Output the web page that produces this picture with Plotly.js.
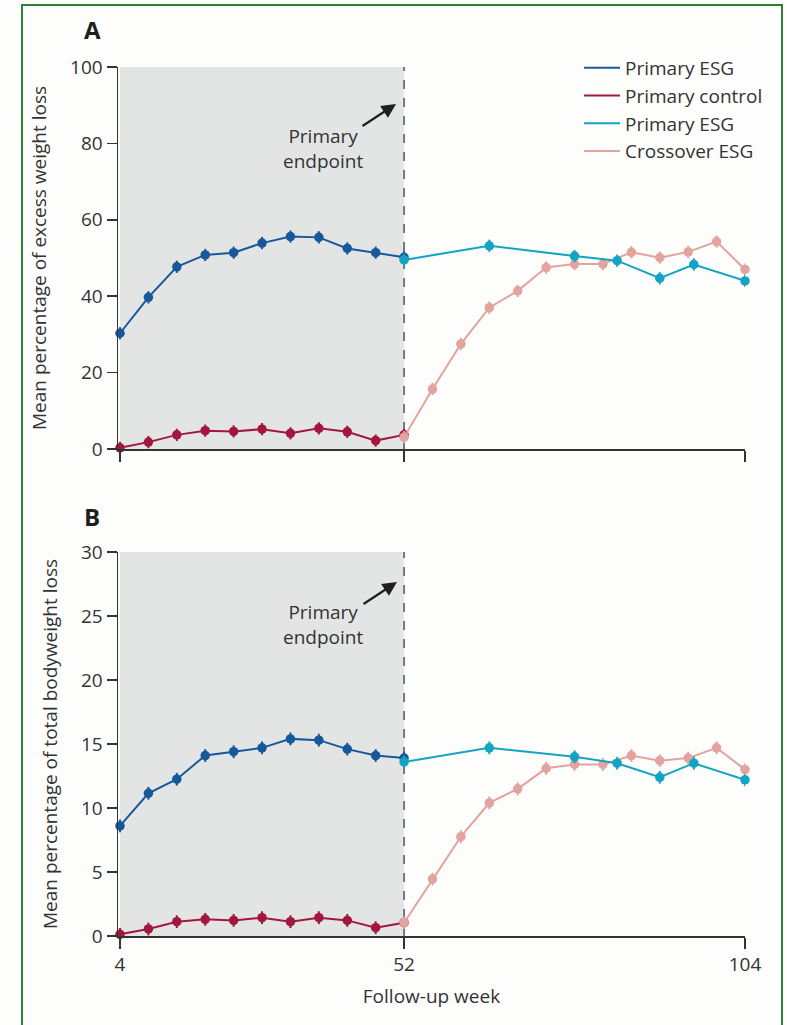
<!DOCTYPE html>
<html>
<head>
<meta charset="utf-8">
<script src="https://cdn.plot.ly/plotly-3.0.1.min.js"></script>
<style>
  html, body { margin: 0; padding: 0; background: #ffffff; }
  #wrap { position: relative; width: 787px; height: 1025px; overflow: hidden; }
  #chart { position: absolute; left: 0; top: 0; width: 787px; height: 1025px; }
  #frame { position: absolute; left: 21px; top: 4px; width: 758px; height: 1100px;
           border: 2px solid #2f7f35; pointer-events: none; }
</style>
</head>
<body>
<div id="wrap">
  <div id="chart"></div>
  <div id="frame"></div>
</div>
<script>
// ---- Data (visit position on the x axis; tick labels give follow-up weeks) ----
var weekTickPos = [0, 10, 22];
var weekTickText = ['4', '52', '104'];

var visitYear1 = [0, 1, 2, 3, 4, 5, 6, 7, 8, 9, 10];
var visitCrossover = [10, 11, 12, 13, 14, 15, 16, 17, 18, 19, 20, 21, 22];
var visitEsgYear2 = [10, 13, 16, 17.5, 19, 20.2, 22];

// Panel A: mean % excess weight loss
var esgA = [30.3, 39.7, 47.7, 50.8, 51.4, 53.9, 55.6, 55.4, 52.5, 51.4, 50.2];
var ctrlA = [0.3, 1.8, 3.7, 4.8, 4.6, 5.2, 4.1, 5.4, 4.5, 2.2, 3.7];
var esg2A = [49.5, 53.2, 50.5, 49.3, 44.7, 48.3, 44.0];
var crossA = [3.1, 15.7, 27.5, 37.0, 41.4, 47.5, 48.4, 48.4, 51.5, 50.1, 51.6, 54.3, 47.0];
var errA = 1.6;

// Panel B: mean % total bodyweight loss
var esgB = [8.6, 11.15, 12.25, 14.1, 14.4, 14.7, 15.4, 15.3, 14.6, 14.1, 13.9];
var ctrlB = [0.13, 0.55, 1.12, 1.3, 1.22, 1.43, 1.12, 1.43, 1.22, 0.65, 1.04];
var esg2B = [13.6, 14.7, 14.0, 13.5, 12.4, 13.5, 12.2];
var crossB = [1.04, 4.45, 7.76, 10.4, 11.5, 13.1, 13.4, 13.4, 14.1, 13.7, 13.9, 14.7, 13.0];
var errB = 0.5;

var seriesNames = ['Primary ESG', 'Primary control', 'Primary ESG', 'Crossover ESG'];
var seriesColors = ['#17589c', '#a3173f', '#13a4c4', '#e3a39e'];

// ---- Geometry helpers (pixel -> paper) ----
var W = 787, H = 1025;
function px(x) { return x / W; }
function py(y) { return 1 - y / H; }

var FONT = 'Open Sans, Noto Sans, sans-serif';
var TXT = '#333333';

function series(xs, ys, err, color, xa, ya) {
  return {
    type: 'scatter', mode: 'lines+markers', x: xs, y: ys,
    xaxis: xa, yaxis: ya, showlegend: false, cliponaxis: false,
    line: { color: color, width: 2 },
    marker: { color: color, size: 9.5, symbol: 'circle' },
    error_y: { type: 'constant', value: err, color: color, thickness: 2, width: 0 },
    hoverinfo: 'x+y'
  };
}

var traces = [
  series(visitYear1, esgA, errA, seriesColors[0], 'x', 'y'),
  series(visitYear1, ctrlA, errA, seriesColors[1], 'x', 'y'),
  series(visitCrossover, crossA, errA, seriesColors[3], 'x', 'y'),
  series(visitEsgYear2, esg2A, errA, seriesColors[2], 'x', 'y'),
  series(visitYear1, esgB, errB, seriesColors[0], 'x2', 'y2'),
  series(visitYear1, ctrlB, errB, seriesColors[1], 'x2', 'y2'),
  series(visitCrossover, crossB, errB, seriesColors[3], 'x2', 'y2'),
  series(visitEsgYear2, esg2B, errB, seriesColors[2], 'x2', 'y2')
];
// legend-only entries (line symbol only)
seriesNames.forEach(function (n, i) {
  traces.push({
    type: 'scatter', mode: 'lines', x: [null], y: [null], name: n,
    legendgroup: 'g' + i, showlegend: true, xaxis: 'x', yaxis: 'y',
    line: { color: seriesColors[i], width: 2 }, hoverinfo: 'skip'
  });
});

var xDomain = [px(118), px(745)];
var axisCommon = {
  showgrid: false, zeroline: false, showline: true, linecolor: '#333333', linewidth: 1.5,
  ticks: 'outside', tickcolor: '#333333', tickwidth: 1.5, ticklen: 11,
  tickfont: { family: FONT, size: 19, color: TXT }
};

function xaxisDef(anchor, dom, showLabels, title) {
  var a = Object.assign({}, axisCommon, {
    domain: dom, anchor: anchor, range: [-0.07, 22], tickmode: 'array',
    tickvals: weekTickPos, ticktext: weekTickText, showticklabels: showLabels
  });
  if (title) a.title = { text: title, font: { family: FONT, size: 19, color: TXT }, standoff: 13 };
  return a;
}
function yaxisDef(anchor, dom, rng, dt, title) {
  return Object.assign({}, axisCommon, {
    domain: dom, anchor: anchor, range: rng, dtick: dt, tick0: 0,
    ticklen: 10,
    title: { text: title, font: { family: FONT, size: 19, color: TXT }, standoff: 18 }
  });
}

var shapes = [
  { type: 'rect', xref: 'x', yref: 'y', x0: 0, x1: 10, y0: 0, y1: 100, fillcolor: '#e3e5e4', line: { width: 0 }, layer: 'below' },
  { type: 'line', xref: 'x', yref: 'y', x0: 10, x1: 10, y0: 0, y1: 100, line: { color: '#4b5661', width: 1.5, dash: 'dash' }, layer: 'below' },
  { type: 'rect', xref: 'x2', yref: 'y2', x0: 0, x1: 10, y0: 0, y1: 30, fillcolor: '#e3e5e4', line: { width: 0 }, layer: 'below' },
  { type: 'line', xref: 'x2', yref: 'y2', x0: 10, x1: 10, y0: 0, y1: 30, line: { color: '#4b5661', width: 1.5, dash: 'dash' }, layer: 'below' }
];

function endpointNote(cx, cy, headX, headY, tailX, tailY) {
  return [
    { xref: 'paper', yref: 'paper', x: px(cx), y: py(cy), xanchor: 'center', yanchor: 'middle',
      text: 'Primary<br>endpoint', showarrow: false, align: 'center',
      font: { family: FONT, size: 19, color: TXT } },
    { xref: 'paper', yref: 'paper', x: px(headX), y: py(headY), text: '', showarrow: true,
      axref: 'pixel', ayref: 'pixel', ax: tailX - headX, ay: tailY - headY,
      arrowhead: 2, arrowsize: 1.3, arrowwidth: 2.2, arrowcolor: '#1f1f1f', standoff: 0 }
  ];
}

var annotations = [
  { xref: 'paper', yref: 'paper', x: px(92), y: py(29), text: '<b>A</b>', showarrow: false,
    xanchor: 'center', yanchor: 'middle', font: { family: FONT, size: 24, color: '#1f1f1f' } },
  { xref: 'paper', yref: 'paper', x: px(92), y: py(516), text: '<b>B</b>', showarrow: false,
    xanchor: 'center', yanchor: 'middle', font: { family: FONT, size: 24, color: '#1f1f1f' } }
].concat(endpointNote(323, 148, 396, 104, 361, 127))
 .concat(endpointNote(323, 624, 397, 582, 362, 605));

var layout = {
  width: W, height: H,
  margin: { l: 0, r: 0, t: 0, b: 0, pad: 0 },
  paper_bgcolor: '#fdfdfc', plot_bgcolor: 'rgba(0,0,0,0)',
  font: { family: FONT, size: 18, color: TXT },
  showlegend: true,
  legend: {
    x: px(579), y: py(49), xanchor: 'left', yanchor: 'top',
    bgcolor: 'rgba(0,0,0,0)', borderwidth: 0, itemwidth: 36,
    font: { family: FONT, size: 19, color: TXT }, tracegroupgap: 0, traceorder: 'grouped'
  },
  xaxis: xaxisDef('y', xDomain, false, null),
  yaxis: yaxisDef('x', [py(449), py(67)], [0, 100], 20, 'Mean percentage of excess weight loss'),
  xaxis2: xaxisDef('y2', xDomain, true, 'Follow-up week'),
  yaxis2: yaxisDef('x2', [py(936), py(552)], [0, 30], 5, 'Mean percentage of total bodyweight loss'),
  shapes: shapes,
  annotations: annotations
};

Plotly.newPlot('chart', traces, layout, { staticPlot: true, displayModeBar: false });
</script>
</body>
</html>
